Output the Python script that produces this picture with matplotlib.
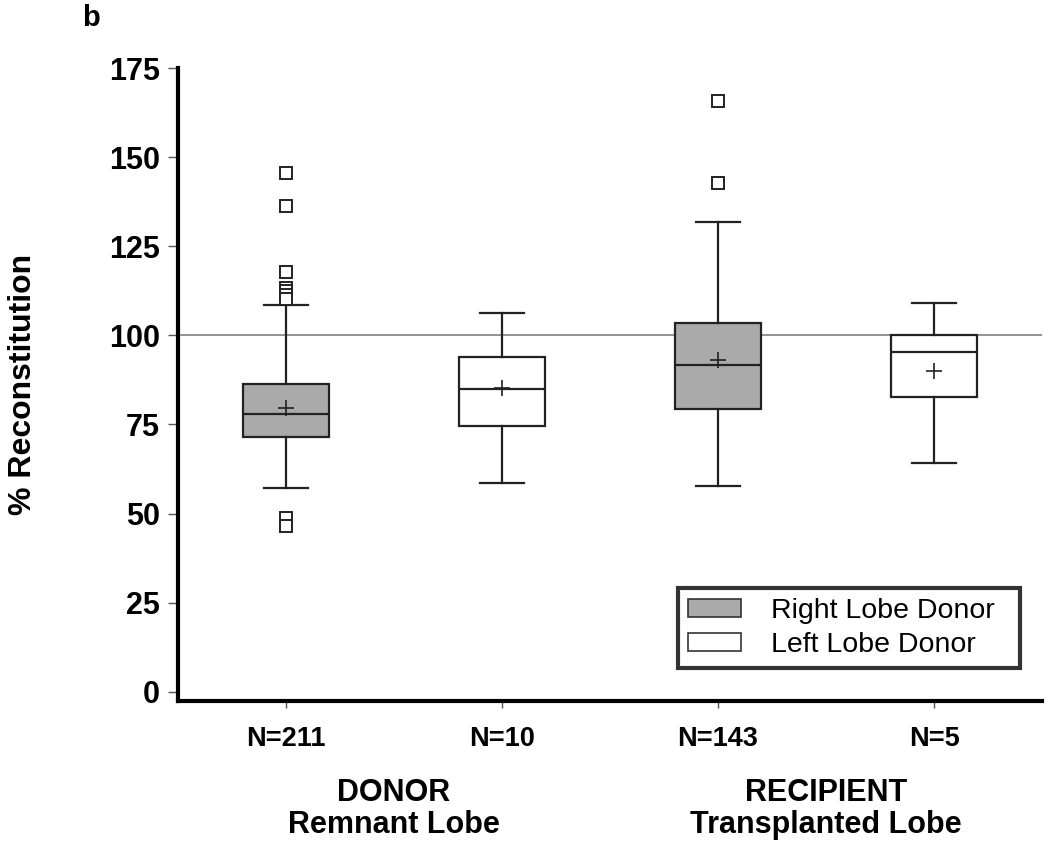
import matplotlib
matplotlib.use('Agg')
import matplotlib.pyplot as plt
import matplotlib.transforms as mtransforms
from matplotlib.patches import Patch

plt.rcParams['font.family'] = ['Liberation Sans', 'DejaVu Sans']

# Box summary values
n_labels = ['N=211', 'N=10', 'N=143', 'N=5']
medians = [77.8, 84.9, 91.6, 95.4]
means = [79.7, 85.1, 93.1, 90.1]
q1 = [71.5, 74.6, 79.3, 82.8]
q3 = [86.3, 93.8, 103.4, 100.0]
whislo = [57.1, 58.6, 57.7, 64.1]
whishi = [108.5, 106.2, 131.9, 109.0]
fliers = [
    [145.5, 136.3, 117.8, 113.4, 112.3, 111.2, 110.3, 48.7, 46.5],
    [],
    [165.8, 142.7],
    [],
]
box_colors = ['#aaaaaa', 'white', '#aaaaaa', 'white']
group_top = ['DONOR', 'RECIPIENT']
group_bottom = ['Remnant Lobe', 'Transplanted Lobe']
group_pos = [1.5, 3.5]
legend_labels = ['Right Lobe Donor', 'Left Lobe Donor']
y_ticks = [0, 25, 50, 75, 100, 125, 150, 175]

fig = plt.figure(figsize=(10.5, 8.49), dpi=100)
ax = fig.add_axes([0.1695, 0.1743, 0.8229, 0.7456])

stats = []
for i in range(len(n_labels)):
    stats.append({'med': medians[i], 'mean': means[i], 'q1': q1[i], 'q3': q3[i],
                  'whislo': whislo[i], 'whishi': whishi[i], 'fliers': fliers[i]})

positions = [1, 2, 3, 4]
ax.axhline(100, color='#808080', lw=1.2, zorder=1)
bp = ax.bxp(stats, positions=positions, widths=0.4, patch_artist=True, showmeans=True,
            boxprops=dict(edgecolor='#222222', linewidth=1.6),
            medianprops=dict(color='#222222', linewidth=1.6),
            whiskerprops=dict(color='#222222', linewidth=1.6),
            capprops=dict(color='#222222', linewidth=1.6),
            capwidths=0.2,
            meanprops=dict(marker='+', markeredgecolor='#222222', markersize=11, markeredgewidth=1.2),
            flierprops=dict(marker='s', markerfacecolor='white', markeredgecolor='#222222',
                            markersize=8, markeredgewidth=1.4))
for patch, c in zip(bp['boxes'], box_colors):
    patch.set_facecolor(c)
    patch.set_zorder(2)

ax.set_xlim(0.5, 4.5)
ax.set_ylim(-2.6, 175)
ax.set_yticks(y_ticks)
ax.set_yticklabels([str(t) for t in y_ticks], fontsize=22, fontweight='bold')
ax.set_xticks(positions)
ax.set_xticklabels(n_labels, fontsize=19.5, fontweight='bold')
ax.tick_params(axis='y', length=7, width=1, color='#555555', pad=6)
ax.tick_params(axis='x', length=5, width=1, color='#555555', pad=13)

for s in ['top', 'right']:
    ax.spines[s].set_visible(False)
ax.spines['left'].set_linewidth(3)
ax.spines['bottom'].set_linewidth(3)

ax.set_ylabel('% Reconstitution', fontsize=23, fontweight='bold')
ax.yaxis.set_label_coords(-0.162, 0.5)

# group labels under the N counts
trans = mtransforms.blended_transform_factory(ax.transData, fig.transFigure)
for x, top, bottom in zip(group_pos, group_top, group_bottom):
    ax.text(x, 0.0566, top, transform=trans, ha='center', va='baseline',
            fontsize=22, fontweight='bold')
    ax.text(x, 0.0188, bottom, transform=trans, ha='center', va='baseline',
            fontsize=22, fontweight='bold')

fig.text(0.087, 0.979, 'b', fontsize=21, fontweight='bold', ha='center', va='center')

handles = [Patch(facecolor=box_colors[0], edgecolor='#333333', linewidth=1.2),
           Patch(facecolor=box_colors[1], edgecolor='#333333', linewidth=1.2)]
leg = ax.legend(handles, legend_labels, loc='lower left', mode='expand',
                bbox_to_anchor=(0.5787, 0.052, 0.3958, 0.12),
                fontsize=20.5, frameon=True, fancybox=False, edgecolor='black',
                handlelength=1.87, handleheight=0.6, handletextpad=1.06,
                labelspacing=0.28, borderpad=0.35, borderaxespad=0)
leg.get_frame().set_linewidth(3)

fig.savefig('out.png', dpi=100)
